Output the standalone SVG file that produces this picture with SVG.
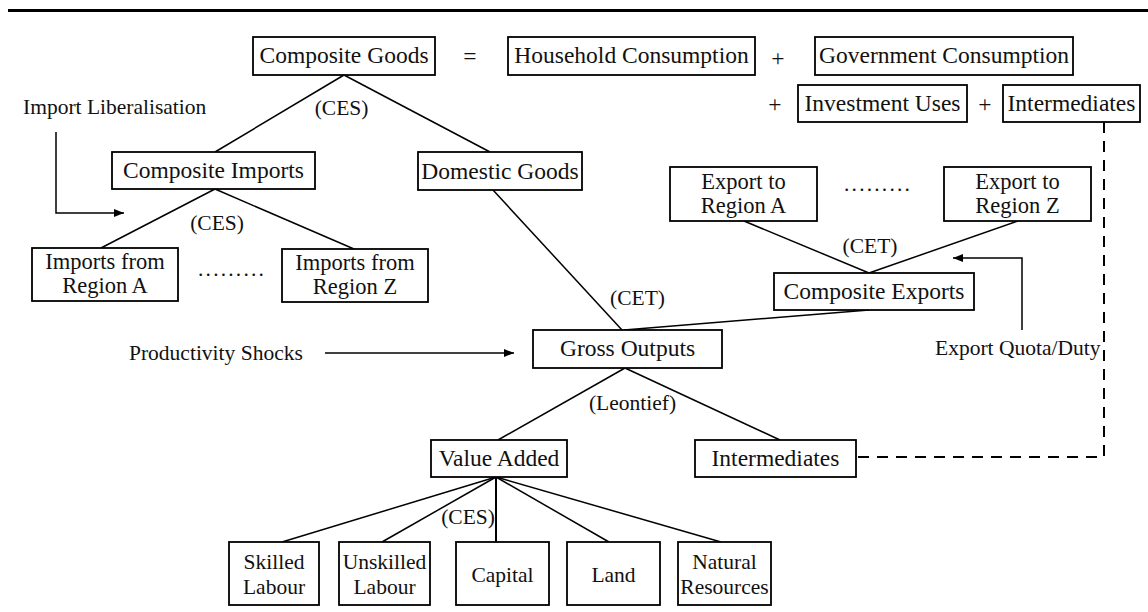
<svg xmlns="http://www.w3.org/2000/svg" width="1148" height="612" viewBox="0 0 1148 612">
<style>
  .box{fill:#fff;stroke:#000;stroke-width:1.8}
  .t{font-family:"Liberation Serif","Times New Roman",serif;font-size:23.5px;fill:#111;text-anchor:middle}
  .t2{font-family:"Liberation Serif","Times New Roman",serif;font-size:22.5px;fill:#111;text-anchor:middle}
  .a{font-family:"Liberation Serif","Times New Roman",serif;font-size:21.5px;fill:#111}
  .s{font-family:"Liberation Serif","Times New Roman",serif;font-size:21.5px;fill:#111;text-anchor:middle}
  .ln{fill:none;stroke:#000;stroke-width:1.5}
  .dash{fill:none;stroke:#000;stroke-width:2;stroke-dasharray:11 8}
  .dots{font-family:"Liberation Serif",serif;font-size:21.5px;fill:#111;letter-spacing:2.2px}
</style>
<defs>
  <marker id="ah" viewBox="0 0 10 8" refX="10" refY="4" markerWidth="10" markerHeight="8" markerUnits="userSpaceOnUse" orient="auto">
    <path d="M0,0 L10,4 L0,8 z" fill="#000"/>
  </marker>
</defs>
<rect x="8" y="9" width="1140" height="3" fill="#000"/>

<g id="connectors">
  <line class="ln" x1="344" y1="75" x2="215" y2="152"/>
  <line class="ln" x1="344" y1="75" x2="490" y2="152"/>
  <line class="ln" x1="215" y1="189" x2="101" y2="248"/>
  <line class="ln" x1="215" y1="189" x2="354" y2="249"/>
  <line class="ln" x1="493" y1="190" x2="622" y2="330"/>
  <line class="ln" x1="624" y1="330" x2="869" y2="310"/>
  <line class="ln" x1="744" y1="221" x2="869" y2="273"/>
  <line class="ln" x1="1018" y1="221" x2="869" y2="273"/>
  <line class="ln" x1="625" y1="368" x2="498" y2="440"/>
  <line class="ln" x1="625" y1="368" x2="780" y2="440"/>
  <line class="ln" x1="496" y1="477" x2="282" y2="542"/>
  <line class="ln" x1="496" y1="477" x2="382" y2="542"/>
  <line class="ln" x1="496" y1="477" x2="496" y2="542" style="stroke-width:2"/>
  <line class="ln" x1="496" y1="477" x2="609" y2="542"/>
  <line class="ln" x1="496" y1="477" x2="721" y2="542"/>
  <polyline class="dash" points="1104,122 1104,457 856,457"/>
  <polyline class="ln" points="56,132 56,213 124,213" marker-end="url(#ah)"/>
  <line class="ln" x1="325" y1="353" x2="514" y2="353" marker-end="url(#ah)"/>
  <polyline class="ln" points="1022,330 1022,258 953,258" marker-end="url(#ah)"/>
</g>

<g id="composite-goods"><rect class="box" x="253" y="37" width="182" height="38"/><text class="t" x="344" y="63">Composite Goods</text></g>
<text class="t" x="470" y="64">=</text>
<g id="household"><rect class="box" x="508" y="37" width="247" height="38"/><text class="t" x="631.5" y="63">Household Consumption</text></g>
<text class="t" x="778" y="66">+</text>
<g id="government"><rect class="box" x="815" y="37" width="258" height="38"/><text class="t" x="944" y="63">Government Consumption</text></g>
<text class="t" x="775" y="112">+</text>
<g id="investment"><rect class="box" x="798" y="85" width="169" height="37"/><text class="t" x="882.5" y="111">Investment Uses</text></g>
<text class="t" x="985" y="112">+</text>
<g id="intermediates-top"><rect class="box" x="1003" y="85" width="137" height="37"/><text class="t" x="1071.5" y="111">Intermediates</text></g>

<text class="a" x="23" y="114">Import Liberalisation</text>
<text class="a" x="341.5" y="115" text-anchor="middle">(CES)</text>

<g id="composite-imports"><rect class="box" x="112" y="152" width="203" height="37"/><text class="t" x="213.5" y="178">Composite Imports</text></g>
<g id="domestic-goods"><rect class="box" x="418" y="152" width="164" height="38"/><text class="t" x="500" y="179">Domestic Goods</text></g>

<text class="a" x="217" y="230" text-anchor="middle">(CES)</text>
<g id="imports-a"><rect class="box" x="32" y="248" width="146" height="53"/><text class="t2" x="105" y="269">Imports from</text><text class="t2" x="105" y="293">Region A</text></g>
<text class="dots" x="198" y="276">.........</text>
<g id="imports-z"><rect class="box" x="282" y="249" width="146" height="53"/><text class="t2" x="355" y="270">Imports from</text><text class="t2" x="355" y="294">Region Z</text></g>

<g id="export-a"><rect class="box" x="670" y="167" width="147" height="54"/><text class="t2" x="743.5" y="189">Export to</text><text class="t2" x="743.5" y="213">Region A</text></g>
<text class="dots" x="844" y="191">.........</text>
<g id="export-z"><rect class="box" x="944" y="167" width="147" height="54"/><text class="t2" x="1017.5" y="189">Export to</text><text class="t2" x="1017.5" y="213">Region Z</text></g>
<text class="a" x="870" y="253" text-anchor="middle">(CET)</text>
<g id="composite-exports"><rect class="box" x="774" y="273" width="200" height="37"/><text class="t" x="874" y="299">Composite Exports</text></g>
<text class="a" x="637.5" y="305" text-anchor="middle">(CET)</text>

<g id="gross-outputs"><rect class="box" x="533" y="330" width="189" height="38"/><text class="t" x="627.5" y="356">Gross Outputs</text></g>
<text class="a" x="129" y="360">Productivity Shocks</text>
<text class="a" x="935" y="355">Export Quota/Duty</text>
<text class="a" x="632.5" y="410" text-anchor="middle">(Leontief)</text>

<g id="value-added"><rect class="box" x="431" y="440" width="136" height="37"/><text class="t" x="499" y="466">Value Added</text></g>
<g id="intermediates"><rect class="box" x="695" y="440" width="161" height="37"/><text class="t" x="775.5" y="466">Intermediates</text></g>
<text class="a" x="468" y="524" text-anchor="middle">(CES)</text>

<g id="skilled"><rect class="box" x="229" y="542" width="90" height="63"/><text class="s" x="274" y="569">Skilled</text><text class="s" x="274" y="594">Labour</text></g>
<g id="unskilled"><rect class="box" x="339" y="542" width="91" height="63"/><text class="s" x="384.5" y="569">Unskilled</text><text class="s" x="384.5" y="594">Labour</text></g>
<g id="capital"><rect class="box" x="456" y="542" width="93" height="63"/><text class="s" x="502.5" y="582">Capital</text></g>
<g id="land"><rect class="box" x="567" y="542" width="93" height="63"/><text class="s" x="613.5" y="582">Land</text></g>
<g id="natural"><rect class="box" x="678" y="542" width="93" height="63"/><text class="s" x="724.5" y="569">Natural</text><text class="s" x="724.5" y="594">Resources</text></g>
</svg>
